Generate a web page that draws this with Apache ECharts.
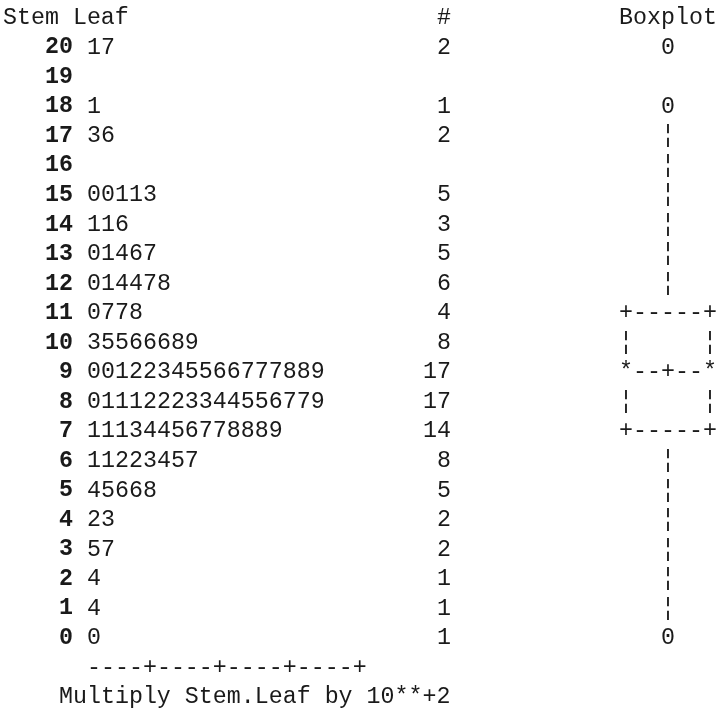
<!DOCTYPE html>
<html>
<head>
<meta charset="utf-8">
<script src="https://cdn.jsdelivr.net/npm/echarts@6/dist/echarts.min.js"></script>
<style>
html,body{margin:0;padding:0;background:#fff;}
#chart{width:719px;height:711px;}
</style>
</head>
<body>
<div id="chart"></div>
<script>
var stems = [20,19,18,17,16,15,14,13,12,11,10,9,8,7,6,5,4,3,2,1,0];
var leaves = ['17','','1','36','','00113','116','01467','014478','0778','35566689',
  '00122345566777889','01112223344556779','11134456778889','11223457','45668','23','57','4','4','0'];
var counts = [2,null,1,2,null,5,3,5,6,4,8,17,17,14,8,5,2,2,1,1,1];
var boxplotRows = ['   0','','   0','   \u00a6','   \u00a6','   \u00a6','   \u00a6','   \u00a6','   \u00a6',
  '+-----+','\u00a6     \u00a6','*--+--*','\u00a6     \u00a6','+-----+',
  '   \u00a6','   \u00a6','   \u00a6','   \u00a6','   \u00a6','   \u00a6','   0'];
var headerLabels = ['Stem Leaf', '#', 'Boxplot'];
var scaleLine = '----+----+----+----+';
var footnote = 'Multiply Stem.Leaf by 10**+2';

var FS = 23.3;
var FONT = FS + 'px "Liberation Mono", monospace';
var BOLD = 'bold ' + FS + 'px "Liberation Mono", monospace';
var INK = '#1a1a1a';

// columns (character cells) and lines of the listing
var COL_STEM_END = 5, COL_LEAF = 6, COL_COUNT_END = 32, COL_BOX = 44;

function textSeries(name, items, font, align) {
  return {
    type: 'custom', name: name, silent: true,
    coordinateSystem: 'cartesian2d',
    data: items.map(function (it) { return [it[0], it[1]]; }),
    renderItem: function (params, api) {
      var p = api.coord([api.value(0), api.value(1)]);
      return {
        type: 'text',
        style: {
          x: p[0], y: p[1], text: items[params.dataIndex][2],
          font: font, fill: INK, align: align, verticalAlign: 'middle',
          textAlign: align, textVerticalAlign: 'middle'
        }
      };
    }
  };
}

var stemItems = [], leafItems = [], countItems = [], boxItems = [];
stems.forEach(function (s, i) {
  var line = 1 + i;
  stemItems.push([COL_STEM_END, line, String(s)]);
  if (leaves[i]) leafItems.push([COL_LEAF, line, leaves[i]]);
  if (counts[i] != null) countItems.push([COL_COUNT_END, line, String(counts[i])]);
  if (boxplotRows[i]) boxItems.push([COL_BOX, line, boxplotRows[i]]);
});
var headItems = [[0, 0, headerLabels[0]], [31, 0, headerLabels[1]], [COL_BOX, 0, headerLabels[2]]];
var footItems = [[COL_LEAF, stems.length + 1, scaleLine], [4, stems.length + 2, footnote]];

var chart = echarts.init(document.getElementById('chart'), null, {renderer: 'canvas'});
chart.setOption({
  backgroundColor: '#ffffff',
  animation: false,
  grid: {left: 3, top: 18, width: 700, height: 679, containLabel: false},
  xAxis: {type: 'value', min: 0, max: 50, show: false},
  yAxis: {type: 'value', min: 0, max: 23, inverse: true, show: false},
  series: [
    textSeries('header', headItems, FONT, 'left'),
    textSeries('stem', stemItems, BOLD, 'right'),
    textSeries('leaf', leafItems, FONT, 'left'),
    textSeries('count', countItems, FONT, 'right'),
    textSeries('boxplot', boxItems, FONT, 'left'),
    textSeries('footer', footItems, FONT, 'left')
  ]
});
</script>
</body>
</html>
